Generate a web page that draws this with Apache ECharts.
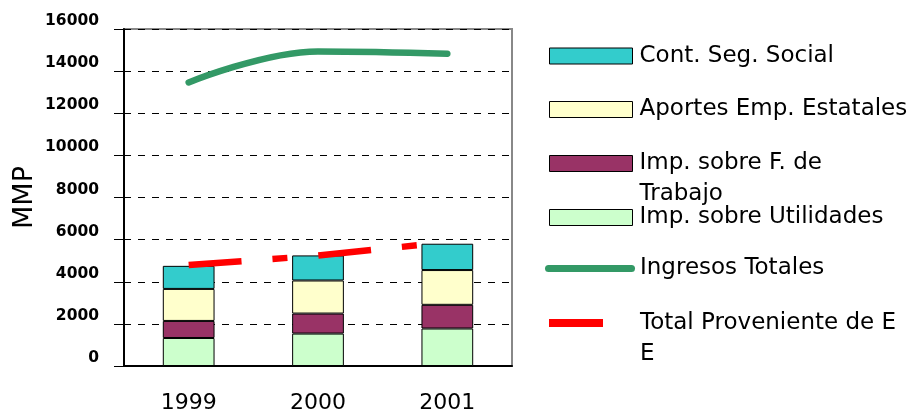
<!DOCTYPE html>
<html>
<head>
<meta charset="utf-8">
<title>Ingresos</title>
<script src="https://cdn.jsdelivr.net/npm/echarts@6.0.0/dist/echarts.min.js"></script>
<style>
  html, body { margin: 0; padding: 0; background: #fff; }
  #chart { width: 921px; height: 416px; }
</style>
</head>
<body>
<div id="chart"></div>
<script>
// datos (MMP)
var years = ['1999', '2000', '2001']
var impUtilidades = [1330, 1540, 1780]
var impFTrabajo = [810, 950, 1125]
var aportesEmp = [1520, 1570, 1650]
var contSegSocial = [1095, 1190, 1250]
var ingresosTotales = [13460, 14935, 14825]
var totalProveniente = [4790, 5240, 5880]
var yMin = 0
var yMax = 16000
var yStep = 2000

var font = 'DejaVu Sans'
var lh = 31

// one legend component per entry so each row sits where it does in the original.
// wrapped labels get an empty first line so the first real line stays on the icon
function legendRow(name, center, left, icon, w, h, style, label, padLeft) {
  var lines = label ? 3 : 1
  return {
    data: [{ name: name, icon: icon }],
    left: left,
    top: center - lines * lh / 2,
    padding: 0,
    itemWidth: w,
    itemHeight: h,
    itemStyle: style,
    selectedMode: false,
    formatter: function() { return label ? '\n' + label : name },
    textStyle: {
      fontFamily: font,
      fontSize: 23,
      color: '#000',
      lineHeight: lh,
      padding: [0, 0, 0, padLeft]
    }
  }
}

function boxStyle(color) {
  return { color: color, borderColor: '#000', borderWidth: 1 }
}

var capsule = 'path://M3.5,0H86.5A3.5,3.5,0,0,1,86.5,7H3.5A3.5,3.5,0,0,1,3.5,0Z'

var chart = echarts.init(document.getElementById('chart'))
chart.setOption({
  animation: false,
  backgroundColor: '#fff',
  grid: {
    left: 124,
    top: 29,
    width: 388,
    height: 337,
    show: true,
    borderColor: '#888',
    borderWidth: 2,
    containLabel: false
  },
  legend: [
    legendRow('Cont. Seg. Social', 56, 549, 'rect', 83, 16, boxStyle('#33CCCC'), null, 2),
    legendRow('Aportes Emp. Estatales', 109.5, 549, 'rect', 83, 16, boxStyle('#FFFFCC'), null, 2),
    legendRow('Imp. sobre F. de Trabajo', 163.5, 549, 'rect', 83, 16, boxStyle('#993366'), 'Imp. sobre F. de\nTrabajo', 2),
    legendRow('Imp. sobre Utilidades', 217.5, 549, 'rect', 83, 16, boxStyle('#CCFFCC'), null, 2),
    legendRow('Ingresos Totales', 268.5, 545, capsule, 90, 7, { color: '#339966', borderWidth: 0 }, null, 0),
    legendRow('Total Proveniente de E E', 323, 549, 'rect', 54, 8, { color: '#FF0000', borderWidth: 0 }, 'Total Proveniente de E\nE', 32)
  ],
  xAxis: {
    type: 'category',
    data: years,
    axisLine: { lineStyle: { color: '#000', width: 2 } },
    axisTick: { length: 9, lineStyle: { color: '#000', width: 1 } },
    axisLabel: { margin: 26, fontFamily: font, fontSize: 22, color: '#000' },
    splitLine: { show: false }
  },
  yAxis: {
    type: 'value',
    min: yMin,
    max: yMax,
    interval: yStep,
    name: 'MMP',
    nameLocation: 'middle',
    nameGap: 86,
    nameTextStyle: { fontFamily: font, fontSize: 27, color: '#000' },
    axisLine: { show: true, lineStyle: { color: '#000', width: 2 } },
    axisTick: { show: true, length: 10, lineStyle: { color: '#000', width: 1 } },
    axisLabel: {
      margin: 25,
      fontFamily: font,
      fontSize: 15.5,
      fontWeight: 'bold',
      color: '#000',
      verticalAlign: 'bottom',
      lineHeight: 16,
      formatter: function(v) { return String(v) }
    },
    splitLine: { lineStyle: { color: '#000', type: [7, 7], width: 1 } }
  },
  series: [{
    name: 'Imp. sobre Utilidades',
    type: 'bar',
    stack: 'ee',
    barWidth: '40%',
    itemStyle: boxStyle('#CCFFCC'),
    data: impUtilidades
  }, {
    name: 'Imp. sobre F. de Trabajo',
    type: 'bar',
    stack: 'ee',
    itemStyle: boxStyle('#993366'),
    data: impFTrabajo
  }, {
    name: 'Aportes Emp. Estatales',
    type: 'bar',
    stack: 'ee',
    itemStyle: boxStyle('#FFFFCC'),
    data: aportesEmp
  }, {
    name: 'Cont. Seg. Social',
    type: 'bar',
    stack: 'ee',
    itemStyle: boxStyle('#33CCCC'),
    data: contSegSocial
  }, {
    name: 'Ingresos Totales',
    type: 'line',
    smooth: 0.4,
    symbol: 'none',
    z: 5,
    itemStyle: { color: '#339966' },
    lineStyle: { color: '#339966', width: 6.5, cap: 'round' },
    data: ingresosTotales
  }, {
    name: 'Total Proveniente de E E',
    type: 'line',
    symbol: 'none',
    z: 4,
    itemStyle: { color: '#FF0000' },
    lineStyle: { color: '#FF0000', width: 6.5, type: [53, 31, 15, 31], cap: 'butt' },
    data: totalProveniente
  }]
})
</script>
</body>
</html>
